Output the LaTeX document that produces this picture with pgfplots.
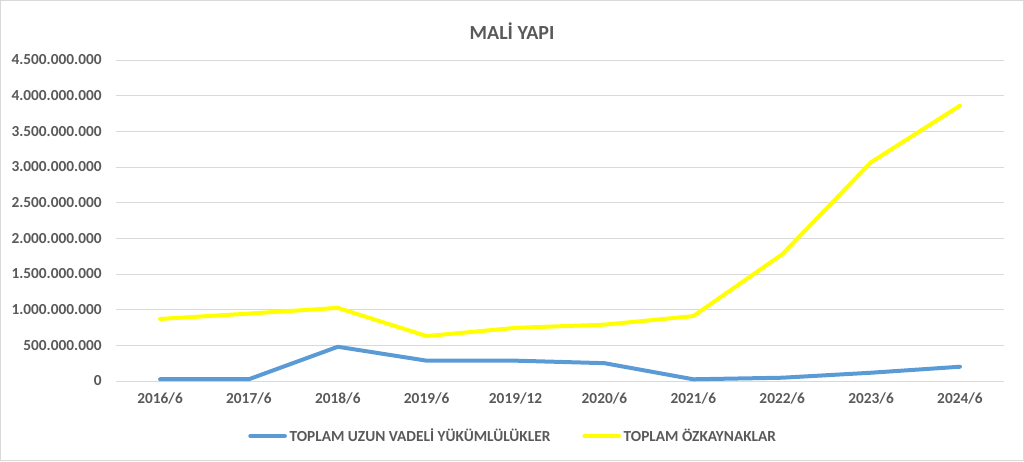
\documentclass[border=0pt]{standalone}
\usepackage{fontspec}
\setmainfont{Carlito}
\usepackage{pgfplots}
\pgfplotsset{compat=1.18}
\definecolor{txt}{HTML}{595959}
\definecolor{grid}{HTML}{D9D9D9}
\definecolor{sblue}{HTML}{5B9BD5}
\definecolor{syellow}{HTML}{FFFF00}
\begin{document}
\begin{tikzpicture}
\path[use as bounding box, draw=grid, line width=0.75pt] (0.375pt,0.375pt) rectangle (767.625pt,345.375pt);
\node[font=\fontsize{15}{17}\selectfont\bfseries, text=txt] at (384pt,322.5pt) {MALİ YAPI};
\begin{axis}[
  at={(86.7pt,60pt)}, anchor=south west,
  scale only axis, width=666.6pt, height=240.75pt,
  xmin=-0.5, xmax=9.5, ymin=0, ymax=4.5e9,
  xtick={0,...,9},
  xticklabels={2016/6,2017/6,2018/6,2019/6,2019/12,2020/6,2021/6,2022/6,2023/6,2024/6},
  ytick={0,5e8,1e9,1.5e9,2e9,2.5e9,3e9,3.5e9,4e9,4.5e9},
  scaled y ticks=false,
  /pgf/number format/fixed,
  /pgf/number format/precision=0,
  /pgf/number format/1000 sep={.},
  /pgf/number format/assume math mode=true,
  ticklabel style={font=\fontsize{11.5}{13}\selectfont\bfseries, text=txt},
  xticklabel style={yshift=-5pt},
  yticklabel style={xshift=-7pt},
  major tick length=0pt,
  axis line style={draw=none},
  ymajorgrids, grid style={draw=grid, line width=0.75pt},
  legend columns=2,
  legend style={at={(0.4477,-0.171)}, anchor=center, draw=none, fill=none,
    font=\fontsize{11.5}{13}\selectfont\bfseries, text=txt,
    /tikz/every odd column/.append style={column sep=0pt},
    /tikz/every even column/.append style={column sep=22pt}},
  legend image code/.code={\draw[#1] (0pt,0pt) -- (26pt,0pt);},
]
\addplot[sblue, line width=3pt, line join=round, line cap=round] coordinates {
  (0,2.5e7) (1,2.5e7) (2,4.8e8) (3,2.85e8) (4,2.85e8) (5,2.5e8) (6,2.4e7) (7,4.6e7) (8,1.16e8) (9,2.0e8)};
\addlegendentry{TOPLAM UZUN VADELİ YÜKÜMLÜLÜKLER}
\addplot[syellow, line width=3pt, line join=round, line cap=round] coordinates {
  (0,8.7e8) (1,9.45e8) (2,1.025e9) (3,6.3e8) (4,7.45e8) (5,7.9e8) (6,9.1e8) (7,1.776e9) (8,3.067e9) (9,3.86e9)};
\addlegendentry{TOPLAM ÖZKAYNAKLAR}
\end{axis}
\end{tikzpicture}
\end{document}
